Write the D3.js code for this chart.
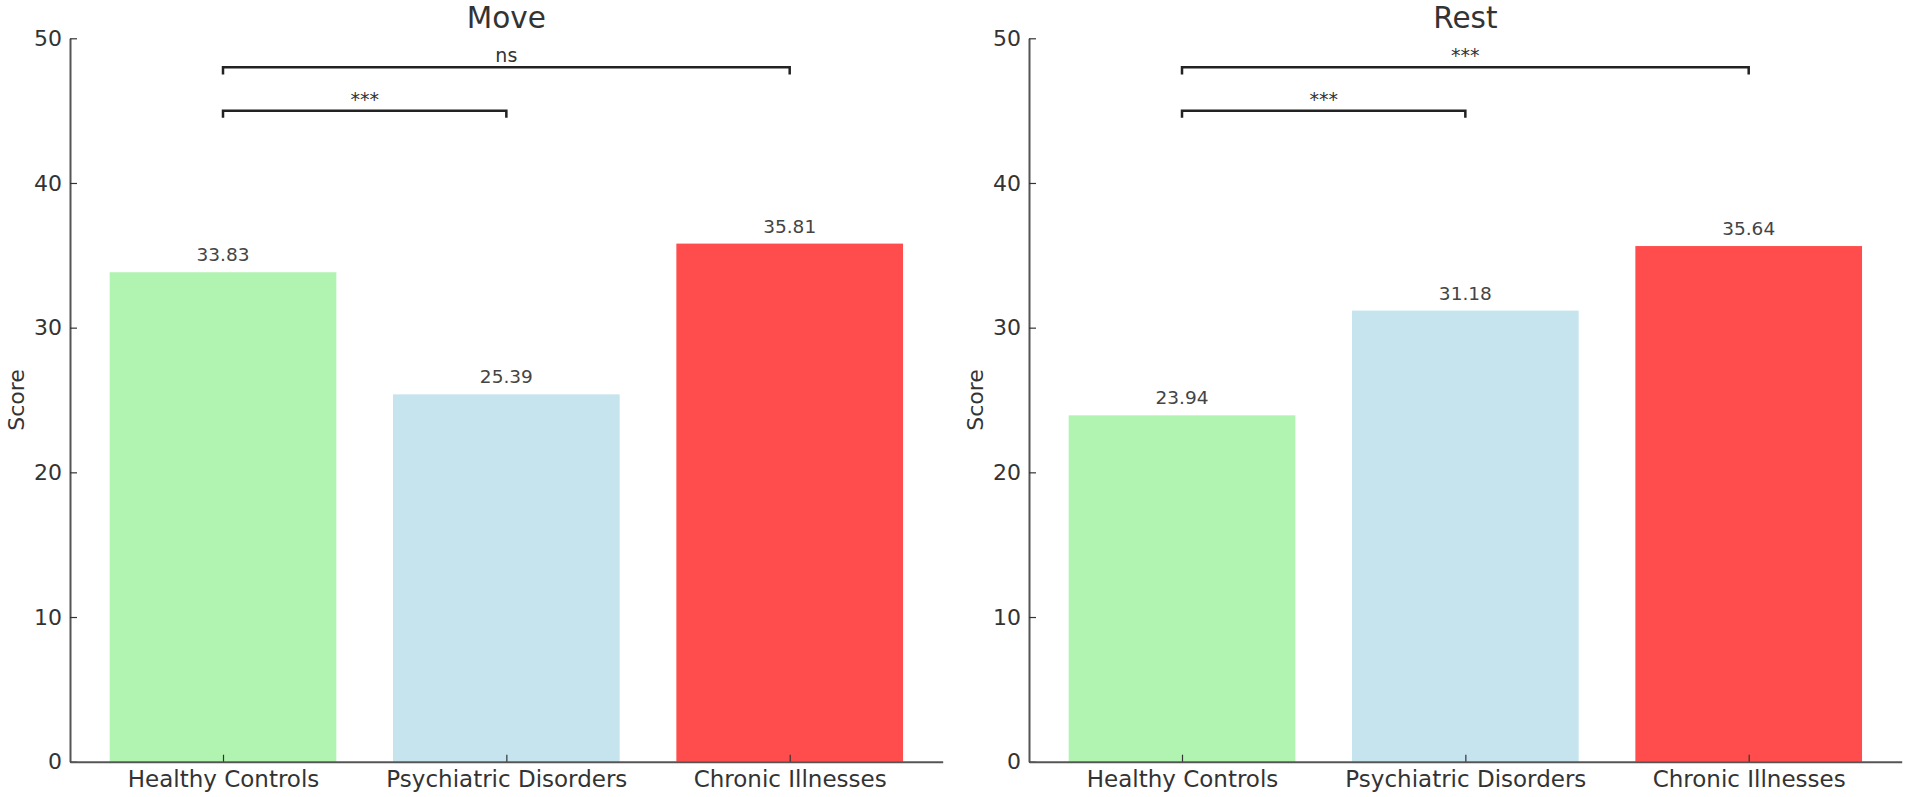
<!DOCTYPE html>
<html>
<head>
<meta charset="utf-8">
<script src="https://cdn.jsdelivr.net/npm/d3@7"></script>
<style>
  body { margin: 0; background: #fff; }
  svg text { font-family: "DejaVu Sans", sans-serif; fill: #333; }
</style>
</head>
<body>
<svg id="chart" width="1907" height="797"></svg>
<script>
// data
var categories = ['Healthy Controls', 'Psychiatric Disorders', 'Chronic Illnesses'];
var barColors = ['#b1f3b1', '#c6e4ee', '#ff4c4c'];
var panelTitles = ['Move', 'Rest'];
var moveScores = [33.83, 25.39, 35.81];
var restScores = [23.94, 31.18, 35.64];
var moveBrackets = [{ a: 0, b: 1, y: 45, label: '***' }, { a: 0, b: 2, y: 48, label: 'ns' }];
var restBrackets = [{ a: 0, b: 1, y: 45, label: '***' }, { a: 0, b: 2, y: 48, label: '***' }];
var yTicks = [0, 10, 20, 30, 40, 50];

var svg = d3.select('#chart');
var top0 = 38.3, bottom0 = 761.7, plotW = 872.7;

var y = d3.scaleLinear().domain([0, 50]).range([bottom0, top0]);

function drawPanel(left, title, scores, brackets) {
    var g = svg.append('g').attr('transform', 'translate(' + left + ',0)');
    var x = d3.scaleLinear().domain([-0.54, 2.54]).range([0, plotW]);

    // bars
    g.selectAll('rect.bar')
        .data(scores)
        .enter()
        .append('rect')
        .classed('bar', true)
        .attr('x', function (d, i) { return x(i - 0.4); })
        .attr('width', function (d, i) { return x(i + 0.4) - x(i - 0.4); })
        .attr('y', function (d) { return y(d); })
        .attr('height', function (d) { return y(0) - y(d); })
        .attr('fill', function (d, i) { return barColors[i]; });

    // value labels
    g.selectAll('text.val')
        .data(scores)
        .enter()
        .append('text')
        .classed('val', true)
        .attr('x', function (d, i) { return x(i); })
        .attr('y', function (d) { return y(d) - 11; })
        .attr('text-anchor', 'middle')
        .style('font-size', '18.5px')
        .style('fill', '#444')
        .text(function (d) { return d.toFixed(2); });

    // axes
    var yAxis = d3.axisLeft(y).tickValues(yTicks).tickSize(-7).tickSizeOuter(0).tickPadding(8);
    var yg = g.append('g').call(yAxis);
    yg.selectAll('text').style('font-size', '22px');

    var xAxis = d3.axisBottom(x).tickValues([0, 1, 2])
        .tickFormat(function (d) { return categories[d]; })
        .tickSize(-7).tickSizeOuter(0).tickPadding(9);
    var xg = g.append('g').attr('transform', 'translate(0,' + bottom0 + ')').call(xAxis);
    xg.selectAll('text').style('font-size', '23px');

    g.selectAll('.domain').attr('stroke', '#555').attr('stroke-width', 2);
    g.selectAll('.tick line').attr('stroke', '#333').attr('stroke-width', 1.2);

    // significance brackets
    var line = d3.line()
        .x(function (p) { return x(p[0]); })
        .y(function (p) { return y(p[1]); });
    brackets.forEach(function (b) {
        g.append('path')
            .attr('d', line([[b.a, b.y - 0.5], [b.a, b.y], [b.b, b.y], [b.b, b.y - 0.5]]))
            .attr('fill', 'none')
            .attr('stroke', '#222')
            .attr('stroke-width', 2.5);
        g.append('text')
            .attr('x', x((b.a + b.b) / 2))
            .attr('y', y(b.y) - 5)
            .attr('text-anchor', 'middle')
            .style('font-size', '19px')
            .text(b.label);
    });

    // title and y label
    g.append('text')
        .attr('x', plotW / 2)
        .attr('y', 28)
        .attr('text-anchor', 'middle')
        .style('font-size', '29.5px')
        .text(title);
    g.append('text')
        .attr('transform', 'translate(' + (-46) + ',' + ((top0 + bottom0) / 2) + ') rotate(-90)')
        .attr('text-anchor', 'middle')
        .style('font-size', '22px')
        .text('Score');
}

drawPanel(70, panelTitles[0], moveScores, moveBrackets);
drawPanel(1029, panelTitles[1], restScores, restBrackets);
</script>
</body>
</html>
